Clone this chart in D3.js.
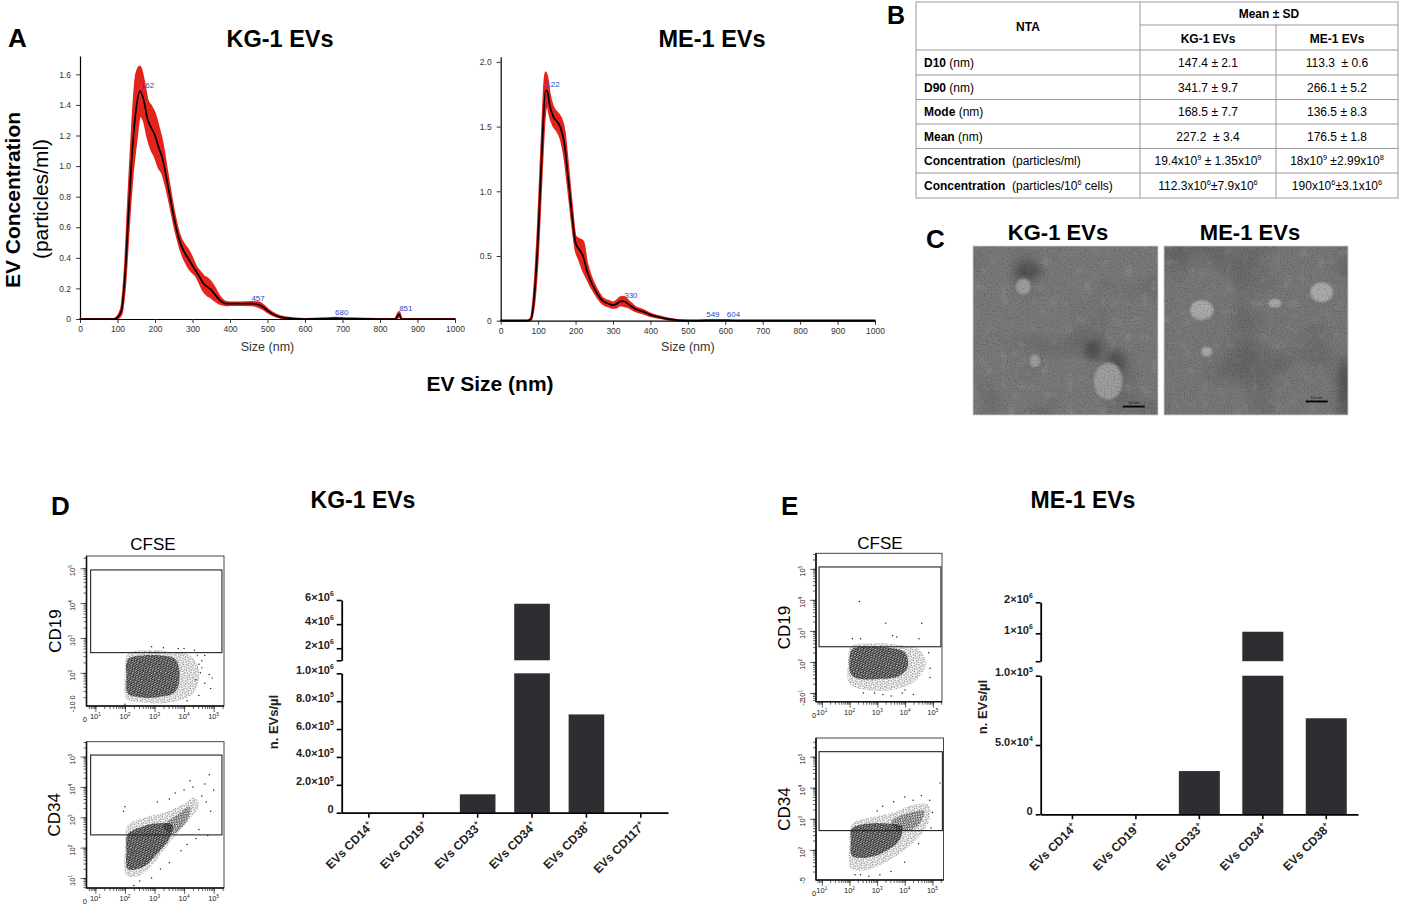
<!DOCTYPE html>
<html>
<head>
<meta charset="utf-8">
<title>EV characterisation</title>
<script src="https://cdn.jsdelivr.net/npm/d3@7/dist/d3.min.js"></script>
<style>
  body { margin: 0; background: #fff; }
  svg text { font-family: "Liberation Sans", Arial, Helvetica, sans-serif; white-space: pre; }
</style>
</head>
<body>
<svg id="fig"></svg>
<script>
// ---------- A: NTA size distributions ----------
const ntaXTicks = [0, 100, 200, 300, 400, 500, 600, 700, 800, 900, 1000];
const kg1YTicks = [0, 0.2, 0.4, 0.6, 0.8, 1.0, 1.2, 1.4, 1.6];
const me1YTicks = [0, 0.5, 1.0, 1.5, 2.0];

const kg1Size = [0, 90, 100, 110, 120, 130, 140, 150, 160, 170, 180, 190, 200, 210, 220, 230, 240, 250, 260, 270,
  280, 290, 300, 310, 320, 330, 340, 350, 360, 370, 380, 390, 400, 430, 460, 480, 490, 500, 520, 550,
  600, 650, 680, 720, 800, 840, 851, 858, 900, 1000];
const kg1Mean = [0, 0, 0.01, 0.05, 0.28, 0.72, 1.12, 1.38, 1.49, 1.43, 1.31, 1.25, 1.2, 1.12, 1.05, 0.93, 0.8, 0.67, 0.56, 0.48,
  0.43, 0.39, 0.35, 0.31, 0.27, 0.23, 0.21, 0.19, 0.16, 0.13, 0.11, 0.1, 0.1, 0.1, 0.1, 0.09, 0.075, 0.055, 0.025, 0.006,
  0, 0.002, 0.005, 0.002, 0, 0, 0.03, 0, 0, 0];
const kg1Sd = [0, 0, 0.005, 0.02, 0.06, 0.12, 0.18, 0.22, 0.16, 0.13, 0.12, 0.14, 0.14, 0.13, 0.1, 0.07, 0.05, 0.04, 0.035, 0.04,
  0.05, 0.055, 0.045, 0.03, 0.04, 0.05, 0.055, 0.05, 0.04, 0.025, 0.015, 0.01, 0.008, 0.008, 0.01, 0.015, 0.012, 0.01, 0.006, 0.003,
  0, 0, 0.002, 0, 0, 0, 0.015, 0, 0, 0];
const kg1Peaks = [[162, 1.49], [457, 0.1], [680, 0.005], [851, 0.03]];

const me1Size = [0, 70, 80, 90, 100, 110, 120, 125, 130, 140, 150, 160, 170, 180, 190, 200, 210, 220, 230, 240,
  250, 260, 270, 280, 290, 300, 310, 320, 330, 340, 350, 360, 380, 400, 420, 450, 500, 549, 604, 650, 800, 1000];
const me1Mean = [0, 0, 0.01, 0.2, 0.65, 1.3, 1.78, 1.77, 1.68, 1.58, 1.54, 1.49, 1.37, 1.11, 0.83, 0.6, 0.55, 0.5, 0.39, 0.31,
  0.25, 0.2, 0.16, 0.14, 0.13, 0.12, 0.13, 0.15, 0.15, 0.13, 0.11, 0.09, 0.07, 0.045, 0.03, 0.012, 0, 0.002, 0.003, 0, 0, 0];
const me1Sd = [0, 0, 0.005, 0.05, 0.1, 0.12, 0.14, 0.1, 0.08, 0.07, 0.07, 0.08, 0.1, 0.08, 0.06, 0.05, 0.08, 0.11, 0.06, 0.04,
  0.03, 0.025, 0.02, 0.02, 0.02, 0.02, 0.025, 0.03, 0.035, 0.025, 0.02, 0.015, 0.012, 0.008, 0.005, 0.003, 0, 0, 0, 0, 0, 0];
const me1Peaks = [[122, 1.78], [330, 0.15], [549, 0.002], [604, 0.003]];

// ---------- B: NTA table ----------
const tblRowBold = ['D10', 'D90', 'Mode', 'Mean', 'Concentration', 'Concentration'];
const tblRowUnit = [' (nm)', ' (nm)', ' (nm)', ' (nm)', '  (particles/ml)', '  (particles/10^6 cells)'];
const tblKG1 = ['147.4 ± 2.1', '341.7 ± 9.7', '168.5 ± 7.7', '227.2  ± 3.4', '19.4x10^9 ± 1.35x10^9', '112.3x10^6±7.9x10^6'];
const tblME1 = ['113.3  ± 0.6', '266.1 ± 5.2', '136.5 ± 8.3', '176.5 ± 1.8', '18x10^9 ±2.99x10^8', '190x10^6±3.1x10^6'];

// ---------- D/E: flow cytometry clouds (log10 units) ----------
const kg19Core = [[2.05, 1.25], [2.0, 2.0], [2.1, 2.55], [2.8, 2.65], [3.6, 2.6], [4.2, 2.5], [4.5, 2.1], [4.3, 1.4], [3.5, 1.15], [2.6, 1.15]];
const kg19Dense = [[2.1, 1.4], [2.05, 1.9], [2.1, 2.4], [2.6, 2.5], [3.2, 2.5], [3.7, 2.4], [3.85, 1.95], [3.7, 1.45], [3.1, 1.3], [2.5, 1.3]];
const kg19Out = [[4.55, 2.0], [4.6, 2.35], [4.7, 1.7], [4.85, 1.95], [4.7, 2.5], [4.35, 2.65], [4.5, 1.35], [4.9, 1.55],
  [2.0, 1.1], [3.6, 1.05], [4.1, 1.2], [4.4, 1.8], [3.8, 2.7], [2.9, 2.75], [4.0, 2.7], [3.3, 2.72], [4.5, 2.25]];
const kg19Red = [[4.6, 2.15], [4.95, 1.85], [4.45, 2.5]];

const kg34Core = [[2.05, 1.1], [2.0, 2.0], [2.1, 2.75], [2.7, 3.0], [3.3, 3.15], [3.9, 3.4], [4.35, 3.65], [4.5, 3.4],
  [4.2, 2.95], [3.8, 2.5], [3.3, 1.9], [2.8, 1.3], [2.4, 1.05]];
const kg34Mid = [[3.3, 2.7], [3.8, 3.1], [4.2, 3.35], [4.1, 2.9], [3.6, 2.45]];
const kg34Dense = [[2.1, 1.3], [2.05, 1.9], [2.1, 2.45], [2.6, 2.7], [3.1, 2.8], [3.6, 2.75], [3.5, 2.3], [3.0, 1.7], [2.6, 1.35]];
const kg34Out = [[1.95, 3.2], [2.0, 3.35], [3.1, 3.5], [3.5, 3.6], [4.0, 3.9], [4.3, 4.0], [4.6, 3.7], [4.7, 4.1], [4.85, 4.4],
  [4.75, 3.5], [4.9, 3.2], [4.5, 2.6], [4.4, 2.3], [4.8, 2.4], [4.1, 2.1], [3.2, 1.3], [2.9, 1.0], [2.5, 0.9], [2.3, 0.75],
  [5.0, 3.9], [3.7, 3.8], [4.2, 4.2], [3.5, 1.5], [3.9, 1.9]];

const me19Core = [[2.0, 1.3], [1.95, 2.1], [2.05, 2.5], [2.9, 2.6], [3.8, 2.55], [4.5, 2.4], [4.75, 1.9], [4.3, 1.35], [3.5, 1.1], [2.6, 1.1]];
const me19Dense = [[2.05, 1.6], [2.0, 2.1], [2.1, 2.42], [2.8, 2.5], [3.5, 2.45], [4.0, 2.3], [4.1, 1.85], [3.8, 1.55], [3.0, 1.45], [2.4, 1.45]];
const me19Out = [[2.35, 3.95], [2.4, 2.75], [2.1, 2.75], [3.55, 2.85], [3.7, 2.8], [4.5, 2.75], [4.6, 3.25], [4.9, 1.5], [4.3, 0.95],
  [3.9, 1.0], [3.5, 0.9], [2.9, 1.0], [2.5, 1.0], [4.0, 1.1], [4.85, 2.3], [4.9, 1.8], [3.2, 0.95]];
const me19Red = [[3.3, 3.25]];

const me34Core = [[2.05, 1.4], [2.0, 2.2], [2.1, 2.85], [2.8, 3.05], [3.6, 3.2], [4.3, 3.45], [4.85, 3.45], [4.9, 3.0],
  [4.6, 2.5], [4.0, 2.0], [3.3, 1.6], [2.6, 1.35]];
const me34Mid = [[3.5, 2.9], [4.2, 3.2], [4.7, 3.25], [4.5, 2.8], [3.9, 2.6]];
const me34Dense = [[2.1, 1.8], [2.05, 2.3], [2.1, 2.7], [2.7, 2.85], [3.4, 2.85], [3.9, 2.75], [3.8, 2.3], [3.2, 1.9], [2.6, 1.75]];
const me34Out = [[2.4, 1.2], [2.7, 1.15], [3.1, 1.2], [3.5, 1.3], [4.0, 1.6], [3.2, 3.4], [3.6, 3.55], [4.0, 3.7], [4.3, 3.6],
  [4.6, 3.75], [4.9, 3.6], [5.0, 3.2], [3.0, 3.25], [4.5, 2.2], [4.95, 2.7], [2.2, 1.2]];
const me34Red = [[5.28, 4.15]];

// ---------- D/E: EV counts ----------
const kgCats = ['EVs CD14^+', 'EVs CD19^+', 'EVs CD33^+', 'EVs CD34^+', 'EVs CD38^+', 'EVs CD117^+'];
const kgCounts = [0, 0, 1.32e5, 5.69e6, 7.05e5, 0];
const kgLowTicks = [0, 2e5, 4e5, 6e5, 8e5, 1e6];
const kgLowLabels = ['0', '2.0×10^5', '4.0×10^5', '6.0×10^5', '8.0×10^5', '1.0×10^6'];
const kgHighTicks = [1e6, 2e6, 4e6, 6e6];
const kgHighLabels = ['', '2×10^6', '4×10^6', '6×10^6'];

const meCats = ['EVs CD14^+', 'EVs CD19^+', 'EVs CD33^+', 'EVs CD34^+', 'EVs CD38^+'];
const meCounts = [0, 0, 3.12e4, 1.05e6, 6.93e4];
const meLowTicks = [0, 5e4, 1e5];
const meLowLabels = ['0', '5.0×10^4', '1.0×10^5'];
const meHighTicks = [1e5, 1e6, 2e6];
const meHighLabels = ['', '1×10^6', '2×10^6'];

// ---------- TEM micrographs (relative positions, radii in px) ----------
const kgVesicles = [[0.272, 0.241, 8, 8.5], [0.335, 0.68, 6, 7], [0.73, 0.8, 15, 19]];
const kgStains = [[0.3, 0.15, 14, 8], [0.65, 0.62, 8, 11], [0.77, 0.7, 10, 14]];
const meVesicles = [[0.205, 0.379, 12.5, 10.5], [0.857, 0.274, 12, 10.5], [0.603, 0.339, 7, 5], [0.232, 0.625, 6, 5.5]];
const meStains = [[0.98, 0.82, 5, 30]];

// =====================================================================
const svg = d3.select('#fig').attr('width', 1405).attr('height', 915);
svg.append('rect').attr('width', 1405).attr('height', 915).attr('fill', '#fff');
const defs = svg.append('defs');

// text with ^x superscripts
function rich(parent, str, fs) {
  const parts = str.split(/(\^.)/).filter(p => p.length);
  let raised = false;
  parts.forEach(p => {
    if (p[0] === '^') {
      parent.append('tspan').attr('font-size', fs * 0.62).attr('dy', raised ? 0 : -fs * 0.42).text(p[1]);
      raised = true;
    } else {
      parent.append('tspan').attr('dy', raised ? fs * 0.42 : 0).text(p);
      raised = false;
    }
  });
  return parent;
}

function txt(x, y, s, fs, opts) {
  opts = opts || {};
  const t = svg.append('text').attr('x', x).attr('y', y).attr('font-size', fs)
    .attr('font-weight', opts.bold ? 'bold' : 'normal')
    .attr('text-anchor', opts.anchor || 'start')
    .attr('fill', opts.fill || '#000');
  if (opts.rotate) t.attr('transform', `rotate(${opts.rotate},${x},${y})`);
  return rich(t, s, fs);
}

// panel letters
txt(8, 47, 'A', 26, { bold: true });
txt(887, 24, 'B', 25, { bold: true });
txt(926, 248, 'C', 26, { bold: true });
txt(51, 515, 'D', 26, { bold: true });
txt(781, 515, 'E', 26, { bold: true });

// ---------------- A ----------------
function nta(o) {
  const x = d3.scaleLinear().domain([0, 1000]).range([o.x0, o.x1]);
  const y = d3.scaleLinear().domain([0, o.yMax]).range([o.yB, o.yT]);
  const pts = o.sizes.map((s, i) => ({ s: s, m: o.mean[i], d: o.sd[i] }));
  const g = svg.append('g');

  const band = d3.area().curve(d3.curveMonotoneX)
    .x(d => x(d.s)).y0(d => y(Math.max(0, d.m - d.d))).y1(d => y(d.m + d.d));
  g.append('path').datum(pts).attr('d', band)
    .attr('fill', '#e5231b').attr('stroke', '#e5231b').attr('stroke-width', 2.2).attr('stroke-linejoin', 'round');

  const xa = g.append('g').attr('transform', `translate(0,${o.yB})`)
    .call(d3.axisBottom(x).tickValues(ntaXTicks).tickSize(4).tickSizeOuter(0).tickPadding(3).tickFormat(d3.format('d')));
  const ya = g.append('g').attr('transform', `translate(${o.x0},0)`)
    .call(d3.axisLeft(y).tickValues(o.yTicks).tickSize(4).tickSizeOuter(0).tickPadding(5)
      .tickFormat(d => d === 0 ? '0' : d3.format('.1f')(d)));
  [xa, ya].forEach(a => {
    a.selectAll('text').attr('font-size', 8.5).attr('fill', '#333');
    a.select('.domain').attr('stroke-width', 1.2);
    a.selectAll('.tick line').attr('stroke', '#333');
  });

  const line = d3.line().curve(d3.curveMonotoneX).x(d => x(d.s)).y(d => y(d.m));
  g.append('path').datum(pts).attr('d', line).attr('fill', 'none').attr('stroke', '#000').attr('stroke-width', 1.7);

  g.selectAll('text.peak').data(o.peaks).join('text').attr('class', 'peak')
    .attr('x', d => x(d[0])).attr('y', d => y(d[1]) - 3)
    .attr('font-size', 8).attr('fill', '#3447c4').text(d => d[0]);

  txt((o.x0 + o.x1) / 2, 351, 'Size (nm)', 12.5, { anchor: 'middle', fill: '#333' });
}

nta({ x0: 80, x1: 455, yB: 319, yT: 56, yMax: 1.72, yTicks: kg1YTicks,
  sizes: kg1Size, mean: kg1Mean, sd: kg1Sd, peaks: kg1Peaks });
nta({ x0: 500.7, x1: 875, yB: 320.7, yT: 56.7, yMax: 2.04, yTicks: me1YTicks,
  sizes: me1Size, mean: me1Mean, sd: me1Sd, peaks: me1Peaks });

txt(280, 47, 'KG-1 EVs', 23.5, { bold: true, anchor: 'middle' });
txt(712, 47, 'ME-1 EVs', 23.5, { bold: true, anchor: 'middle' });
txt(490, 391, 'EV Size (nm)', 21, { bold: true, anchor: 'middle' });
txt(20, 200, 'EV Concentration', 21, { bold: true, anchor: 'middle', rotate: -90 });
txt(48, 199, '(particles/ml)', 21, { anchor: 'middle', rotate: -90 });

// ---------------- B ----------------
(function table() {
  const cx = [916, 1140, 1276, 1398];
  const ry = [2, 25, 50, 75, 99.5, 124, 148.5, 173, 198];
  const g = svg.append('g').attr('stroke', '#999').attr('stroke-width', 1);
  g.append('rect').attr('x', cx[0]).attr('y', ry[0]).attr('width', cx[3] - cx[0]).attr('height', ry[8] - ry[0]).attr('fill', 'none');
  g.append('line').attr('x1', cx[1]).attr('x2', cx[1]).attr('y1', ry[0]).attr('y2', ry[8]);
  g.append('line').attr('x1', cx[2]).attr('x2', cx[2]).attr('y1', ry[1]).attr('y2', ry[8]);
  g.append('line').attr('x1', cx[1]).attr('x2', cx[3]).attr('y1', ry[1]).attr('y2', ry[1]);
  ry.slice(2, 8).forEach(y => g.append('line').attr('x1', cx[0]).attr('x2', cx[3]).attr('y1', y).attr('y2', y));

  const fs = 12;
  txt((cx[0] + cx[1]) / 2, 30.5, 'NTA', fs, { bold: true, anchor: 'middle' });
  txt((cx[1] + cx[3]) / 2, 18, 'Mean ± SD', fs, { bold: true, anchor: 'middle' });
  txt((cx[1] + cx[2]) / 2, 42.5, 'KG-1 EVs', fs, { bold: true, anchor: 'middle' });
  txt((cx[2] + cx[3]) / 2, 42.5, 'ME-1 EVs', fs, { bold: true, anchor: 'middle' });

  tblRowBold.forEach((b, i) => {
    const yc = (ry[i + 2] + ry[i + 3]) / 2 + 4.3;
    const t = svg.append('text').attr('x', 924).attr('y', yc).attr('font-size', fs);
    t.append('tspan').attr('font-weight', 'bold').text(b);
    rich(t.append('tspan'), tblRowUnit[i], fs);
    txt((cx[1] + cx[2]) / 2, yc, tblKG1[i], fs, { anchor: 'middle' });
    txt((cx[2] + cx[3]) / 2, yc, tblME1[i], fs, { anchor: 'middle' });
  });
})();

// ---------------- C ----------------
function temFilters(id, seed) {
  const f1 = defs.append('filter').attr('id', id + 'spots').attr('x', 0).attr('y', 0).attr('width', 1).attr('height', 1);
  f1.append('feTurbulence').attr('type', 'fractalNoise').attr('baseFrequency', 0.12).attr('numOctaves', 1).attr('seed', seed);
  f1.append('feColorMatrix').attr('type', 'matrix').attr('values', '0 0 0 0 1  0 0 0 0 1  0 0 0 0 1  6 0 0 0 -3.6');
  f1.append('feGaussianBlur').attr('stdDeviation', 1.4);
  const f2 = defs.append('filter').attr('id', id + 'grain').attr('x', 0).attr('y', 0).attr('width', 1).attr('height', 1);
  f2.append('feTurbulence').attr('type', 'fractalNoise').attr('baseFrequency', 0.7).attr('numOctaves', 1).attr('seed', seed + 5);
  f2.append('feColorMatrix').attr('type', 'matrix').attr('values', '0 0 0 0 0  0 0 0 0 0  0 0 0 0 0  3 0 0 0 -1.4');
  const f3 = defs.append('filter').attr('id', id + 'mottle').attr('x', 0).attr('y', 0).attr('width', 1).attr('height', 1);
  f3.append('feTurbulence').attr('type', 'fractalNoise').attr('baseFrequency', 0.018).attr('numOctaves', 2).attr('seed', seed + 11);
  f3.append('feColorMatrix').attr('type', 'matrix').attr('values', '0 0 0 0 0  0 0 0 0 0  0 0 0 0 0  3 0 0 0 -1.5');
}
defs.append('filter').attr('id', 'stainBlur').attr('x', -1).attr('y', -1).attr('width', 3).attr('height', 3)
  .append('feGaussianBlur').attr('stdDeviation', 4);
defs.append('filter').attr('id', 'vesBlur').attr('x', -1).attr('y', -1).attr('width', 3).attr('height', 3)
  .append('feGaussianBlur').attr('stdDeviation', 0.9);

function tem(o) {
  temFilters(o.id, o.seed);
  const u = d3.scaleLinear().range([o.x, o.x + o.w]);
  const v = d3.scaleLinear().range([o.y, o.y + o.h]);
  defs.append('clipPath').attr('id', o.id + 'clip').append('rect')
    .attr('x', o.x).attr('y', o.y).attr('width', o.w).attr('height', o.h);
  const g = svg.append('g').attr('clip-path', `url(#${o.id}clip)`);
  const layer = (fill, filter, op) => g.append('rect').attr('x', o.x).attr('y', o.y).attr('width', o.w).attr('height', o.h)
    .attr('fill', fill).attr('filter', filter ? `url(#${o.id}${filter})` : null).attr('opacity', op);
  layer(o.tone, null, 1);
  layer('#000', 'mottle', 0.15);
  layer('#fff', 'spots', 0.1);
  g.selectAll('ellipse.stain').data(o.stains).join('ellipse')
    .attr('cx', d => u(d[0])).attr('cy', d => v(d[1])).attr('rx', d => d[2]).attr('ry', d => d[3])
    .attr('fill', '#2a2a2a').attr('opacity', 0.45).attr('filter', 'url(#stainBlur)');
  g.selectAll('ellipse.ves').data(o.ves).join('ellipse')
    .attr('cx', d => u(d[0])).attr('cy', d => v(d[1])).attr('rx', d => d[2]).attr('ry', d => d[3])
    .attr('fill', o.vesTone).attr('stroke', '#666').attr('stroke-width', 1).attr('filter', 'url(#vesBlur)');
  layer('#000', 'grain', 0.2);
  svg.append('line').attr('x1', u(o.bar[0])).attr('x2', u(o.bar[0]) + 22).attr('y1', v(o.bar[1])).attr('y2', v(o.bar[1]))
    .attr('stroke', '#000').attr('stroke-width', 1.8);
  svg.append('text').attr('x', u(o.bar[0]) + 11).attr('y', v(o.bar[1]) - 2.5).attr('font-size', 4)
    .attr('text-anchor', 'middle').attr('fill', '#111').text('50 nm');
  svg.append('rect').attr('x', o.x).attr('y', o.y).attr('width', o.w).attr('height', o.h)
    .attr('fill', 'none').attr('stroke', '#d0d0d0').attr('stroke-width', 0.8);
}

tem({ id: 'kgt', seed: 3, x: 973, y: 246, w: 185, h: 169, tone: '#7a7a7a', vesTone: '#9e9e9e',
  ves: kgVesicles, stains: kgStains, bar: [0.81, 0.95] });
tem({ id: 'met', seed: 8, x: 1164, y: 246, w: 184, h: 169, tone: '#787878', vesTone: '#aaaaaa',
  ves: meVesicles, stains: meStains, bar: [0.77, 0.92] });
txt(1058, 240, 'KG-1 EVs', 22, { bold: true, anchor: 'middle' });
txt(1250, 240, 'ME-1 EVs', 22, { bold: true, anchor: 'middle' });

// ---------------- D / E flow plots ----------------
function dotPattern(id, size, dots, r, angle) {
  const p = defs.append('pattern').attr('id', id).attr('patternUnits', 'userSpaceOnUse')
    .attr('width', size).attr('height', size).attr('patternTransform', `rotate(${angle})`);
  dots.forEach(d => p.append('circle').attr('cx', d[0]).attr('cy', d[1]).attr('r', r).attr('fill', '#151515'));
}
dotPattern('dotsSparse', 5, [[1.1, 1.2], [3.7, 1.9], [2.1, 3.8], [4.2, 4.3]], 0.58, 21);
dotPattern('dotsMid', 3.6, [[0.8, 0.8], [2.7, 1.4], [1.5, 2.7], [3.1, 3.1]], 0.62, 33);
dotPattern('dotsDense', 2.7, [[0.7, 0.7], [2.0, 1.2], [1.2, 2.1]], 0.74, 14);

function flow(o) {
  const x = d3.scaleLog().domain([10 ** o.xDom[0], 10 ** o.xDom[1]]).range([o.L, o.R]);
  const y = d3.scaleLog().domain([10 ** o.yDom[0], 10 ** o.yDom[1]]).range([o.B, o.T]);
  const X = d => x(10 ** d[0]), Y = d => y(10 ** d[1]);
  defs.append('clipPath').attr('id', o.id + 'clip').append('rect')
    .attr('x', o.L).attr('y', o.T).attr('width', o.R - o.L).attr('height', o.B - o.T);
  const g = svg.append('g');
  g.append('rect').attr('x', o.L).attr('y', o.T).attr('width', o.R - o.L).attr('height', o.B - o.T)
    .attr('fill', '#fff').attr('stroke', '#333').attr('stroke-width', 0.9);

  const cloud = g.append('g').attr('clip-path', `url(#${o.id}clip)`);
  const blob = d3.line().x(X).y(Y).curve(d3.curveCatmullRomClosed.alpha(0.5));
  cloud.append('path').attr('d', blob(o.core)).attr('fill', 'url(#dotsSparse)');
  if (o.mid) cloud.append('path').attr('d', blob(o.mid)).attr('fill', 'url(#dotsMid)');
  cloud.append('path').attr('d', blob(o.dense)).attr('fill', 'url(#dotsDense)');
  cloud.selectAll('circle.out').data(o.out).join('circle')
    .attr('cx', X).attr('cy', Y).attr('r', 0.75).attr('fill', '#222');
  cloud.selectAll('circle.red').data(o.red || []).join('circle')
    .attr('cx', X).attr('cy', Y).attr('r', 0.9).attr('fill', '#e05a5a');

  g.append('rect').attr('x', x(10 ** o.gateX[0])).attr('y', y(10 ** o.gateY[1]))
    .attr('width', x(10 ** o.gateX[1]) - x(10 ** o.gateX[0]))
    .attr('height', y(10 ** o.gateY[0]) - y(10 ** o.gateY[1]))
    .attr('fill', 'none').attr('stroke', '#222').attr('stroke-width', 1.1);

  const decY = y.ticks().filter(v => Math.abs(Math.log10(v) % 1) < 1e-9);
  const decX = x.ticks().filter(v => Math.abs(Math.log10(v) % 1) < 1e-9);
  const ax = [
    g.append('g').attr('transform', `translate(${o.L},0)`).call(d3.axisLeft(y).tickValues(y.ticks()).tickSize(3).tickFormat('')),
    g.append('g').attr('transform', `translate(${o.L},0)`).call(d3.axisLeft(y).tickValues(decY).tickSize(6).tickFormat('')),
    g.append('g').attr('transform', `translate(0,${o.B})`).call(d3.axisBottom(x).tickValues(x.ticks()).tickSize(3).tickFormat('')),
    g.append('g').attr('transform', `translate(0,${o.B})`).call(d3.axisBottom(x).tickValues(decX).tickSize(6).tickFormat(''))
  ];
  ax.forEach(a => { a.select('.domain').remove(); a.selectAll('line').attr('stroke', '#222').attr('stroke-width', 0.7); });
  g.append('line').attr('x1', o.L).attr('x2', o.L).attr('y1', o.T).attr('y2', o.B + 0.5).attr('stroke', '#111').attr('stroke-width', 1.6);
  g.append('line').attr('x1', o.L).attr('x2', o.R).attr('y1', o.B).attr('y2', o.B).attr('stroke', '#111').attr('stroke-width', 1.6);

  o.yLab.forEach(d => txt(o.L - 11, y(10 ** d[0]) + 2.5, d[1], 7.5, { anchor: 'middle', rotate: -90, fill: '#222' }));
  o.xLab.forEach(d => txt(x(10 ** d[0]), o.B + (d[1] === '0' ? 16 : 13), d[1], 7.5, { anchor: 'middle', fill: '#222' }));
  txt(o.L - 26, (o.T + o.B) / 2, o.name, 17, { anchor: 'middle', rotate: -90 });
}

const decadeLabsX = [[1, '10^1'], [2, '10^2'], [3, '10^3'], [4, '10^4'], [5, '10^5']];

flow({ id: 'f1', name: 'CD19', L: 86.5, R: 224, T: 556, B: 706, xDom: [0.7, 5.35], yDom: [1.05, 5.35],
  gateX: [0.84, 5.28], gateY: [2.58, 4.95], core: kg19Core, dense: kg19Dense, out: kg19Out, red: kg19Red,
  xLab: [[0.64, '0']].concat(decadeLabsX),
  yLab: [[5, '10^5'], [4, '10^4'], [3, '10^3'], [2, '10^2'], [1.37, '0'], [1.1, '-10']] });
flow({ id: 'f2', name: 'CD34', L: 86.5, R: 224, T: 741.7, B: 888, xDom: [0.7, 5.35], yDom: [0.67, 5.49],
  gateX: [0.84, 5.28], gateY: [2.42, 5.05], core: kg34Core, mid: kg34Mid, dense: kg34Dense, out: kg34Out,
  xLab: [[0.64, '0']].concat(decadeLabsX),
  yLab: [[5, '10^5'], [4, '10^4'], [3, '10^3'], [2, '10^2'], [1, '10^1']] });
flow({ id: 'f3', name: 'CD19', L: 816, R: 942, T: 553.3, B: 701.7, xDom: [0.79, 5.33], yDom: [0.72, 5.5],
  gateX: [0.9, 5.29], gateY: [2.49, 5.06], core: me19Core, dense: me19Dense, out: me19Out, red: me19Red,
  xLab: [[0.72, '0']].concat(decadeLabsX),
  yLab: [[5, '10^5'], [4, '10^4'], [3, '10^3'], [2, '10^2'], [1, '10^1'], [0.78, '-2']] });
flow({ id: 'f4', name: 'CD34', L: 816, R: 943.5, T: 738, B: 880, xDom: [0.79, 5.4], yDom: [1.03, 5.6],
  gateX: [0.9, 5.36], gateY: [2.62, 5.16], core: me34Core, mid: me34Mid, dense: me34Dense, out: me34Out, red: me34Red,
  xLab: [[0.72, '0']].concat(decadeLabsX),
  yLab: [[5, '10^5'], [4, '10^4'], [3, '10^3'], [2, '10^2'], [1.1, '-5']] });

txt(153, 550, 'CFSE', 17, { anchor: 'middle' });
txt(880, 549, 'CFSE', 17, { anchor: 'middle' });

// ---------------- D / E bar charts ----------------
function bars(o) {
  const x = d3.scaleBand().domain(o.cats).range([o.x0, o.x1]).paddingInner(o.pad).paddingOuter(o.pad / 2);
  const yl = d3.scaleLinear().domain(o.lowDom).range(o.lowRange);
  const yh = d3.scaleLinear().domain(o.highDom).range(o.highRange);
  const lowMax = o.lowDom[1];
  const data = o.cats.map((c, i) => ({ c: c, v: o.values[i] }));
  const g = svg.append('g');
  g.selectAll('rect.lo').data(data).join('rect')
    .attr('x', d => x(d.c)).attr('width', x.bandwidth())
    .attr('y', d => yl(Math.min(d.v, lowMax))).attr('height', d => yl(0) - yl(Math.min(d.v, lowMax)))
    .attr('fill', '#2c2e31');
  g.selectAll('rect.hi').data(data.filter(d => d.v > lowMax)).join('rect')
    .attr('x', d => x(d.c)).attr('width', x.bandwidth())
    .attr('y', d => yh(d.v)).attr('height', d => yh(o.highDom[0]) - yh(d.v))
    .attr('fill', '#2c2e31');

  const fs = 11;
  const axes = [
    [g.append('g').attr('transform', `translate(${o.x0},0)`)
      .call(d3.axisLeft(yl).tickValues(o.lowTicks).tickSize(5).tickPadding(3).tickSizeOuter(0).tickFormat('')), o.lowLabels],
    [g.append('g').attr('transform', `translate(${o.x0},0)`)
      .call(d3.axisLeft(yh).tickValues(o.highTicks).tickSize(5).tickPadding(3).tickSizeOuter(0).tickFormat('')), o.highLabels]
  ];
  axes.forEach(([a, labels]) => {
    a.select('.domain').attr('stroke-width', 1.8);
    a.selectAll('.tick line').attr('stroke-width', 1.6);
    a.selectAll('.tick text').attr('font-size', fs).attr('font-weight', 'bold').attr('fill', '#222')
      .each(function (d, i) { rich(d3.select(this), labels[i], fs); });
  });

  const xa = g.append('g').attr('transform', `translate(0,${yl(0)})`)
    .call(d3.axisBottom(x).tickSize(5).tickSizeOuter(0).tickFormat(''));
  xa.select('.domain').attr('stroke-width', 1.8);
  xa.selectAll('.tick line').attr('stroke-width', 1.6);

  o.cats.forEach(c => {
    const cx = x(c) + x.bandwidth() / 2 + 5, cy = yl(0) + 14;
    const t = svg.append('text').attr('font-size', 12).attr('font-weight', 'bold').attr('fill', '#222')
      .attr('text-anchor', 'end').attr('transform', `translate(${cx},${cy}) rotate(-45)`);
    rich(t, c, 12);
  });

  txt(o.yTitleX, o.yTitleY, 'n. EVs/µl', 13, { bold: true, anchor: 'middle', rotate: -90, fill: '#222' });
}

bars({ cats: kgCats, values: kgCounts, x0: 341.7, x1: 668, pad: 0.345,
  lowDom: [0, 1e6], lowRange: [812.7, 673.3], highDom: [1e6, 6e6], highRange: [660.3, 600],
  lowTicks: kgLowTicks, lowLabels: kgLowLabels, highTicks: kgHighTicks, highLabels: kgHighLabels,
  yTitleX: 278, yTitleY: 722 });
bars({ cats: meCats, values: meCounts, x0: 1040.7, x1: 1358, pad: 0.354,
  lowDom: [0, 1e5], lowRange: [814.3, 675.7], highDom: [1e5, 2e6], highRange: [661.2, 602.3],
  lowTicks: meLowTicks, lowLabels: meLowLabels, highTicks: meHighTicks, highLabels: meHighLabels,
  yTitleX: 987, yTitleY: 707 });

txt(363, 508, 'KG-1 EVs', 23, { bold: true, anchor: 'middle' });
txt(1083, 508, 'ME-1 EVs', 23, { bold: true, anchor: 'middle' });
</script>
</body>
</html>
